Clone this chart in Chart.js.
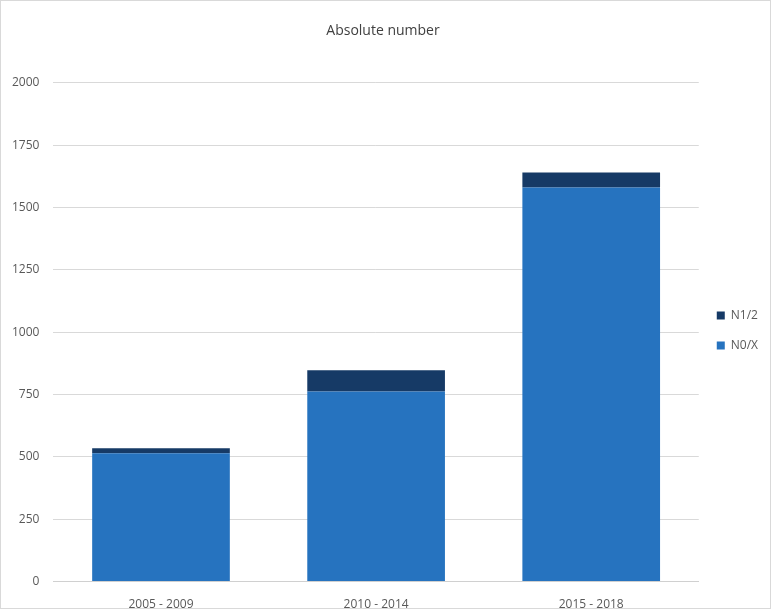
<!DOCTYPE html>
<html lang="en">
<head>
  <meta charset="UTF-8">
  <title>Absolute number</title>
  <script src="https://cdn.jsdelivr.net/npm/chart.js"></script>
  <style>
    body {
      margin: 0;
      background: #ffffff;
    }

    .wrap {
      width: 769px;
      height: 607px;
      border: 1px solid #d9d9d9;
      overflow: hidden;
    }

    canvas {
      display: block;
    }
  </style>
</head>
<body>

<div class="wrap">
  <canvas id="absChart" width="769" height="607"></canvas>
</div>

<script>
  // categories and values
  const periods = ['2005 - 2009', '2010 - 2014', '2015 - 2018'];
  const n0x = [515, 762, 1580];
  const n12 = [20, 85, 60];
  const yTicks = [0, 250, 500, 750, 1000, 1250, 1500, 1750, 2000];

  // legend sits a bit lower than the default centring
  const legendNudge = {
    id: 'legendNudge',
    afterLayout(chart) {
      chart.legend.top += 16;
      chart.legend.bottom += 16;
    }
  };

  new Chart(document.getElementById('absChart'), {
    type: 'bar',
    data: {
      labels: periods,
      datasets: [
        {
          label: 'N0/X',
          data: n0x,
          backgroundColor: '#2673bf',
          barPercentage: 0.64,
          categoryPercentage: 1
        },
        {
          label: 'N1/2',
          data: n12,
          backgroundColor: '#163a66',
          barPercentage: 0.64,
          categoryPercentage: 1
        }
      ]
    },
    options: {
      responsive: false,
      animation: false,
      layout: {
        padding: { left: -3, right: 2, top: 0, bottom: -20 }
      },
      plugins: {
        title: {
          display: true,
          text: 'Absolute number',
          color: '#404040',
          font: { family: 'Open Sans', size: 14, weight: 'normal' },
          padding: { top: 22, bottom: 43 }
        },
        legend: {
          position: 'right',
          reverse: true,
          labels: {
            boxWidth: 8,
            boxHeight: 8,
            padding: 18,
            color: '#595959',
            font: { family: 'Open Sans', size: 12 }
          }
        },
        tooltip: { enabled: false }
      },
      scales: {
        x: {
          stacked: true,
          grid: { display: false, drawTicks: false },
          border: { color: '#d0d0d0' },
          ticks: {
            padding: 16,
            color: '#595959',
            font: { family: 'Open Sans', size: 12 }
          }
        },
        y: {
          stacked: true,
          min: 0,
          max: 2000,
          afterBuildTicks: axis => {
            axis.ticks = yTicks.map(v => ({ value: v }));
          },
          grid: { color: '#d9d9d9', drawTicks: false },
          border: { display: false },
          ticks: {
            padding: 14,
            color: '#595959',
            font: { family: 'Open Sans', size: 12 },
            callback: v => String(v)
          }
        }
      }
    },
    plugins: [legendNudge]
  });
</script>

</body>
</html>
